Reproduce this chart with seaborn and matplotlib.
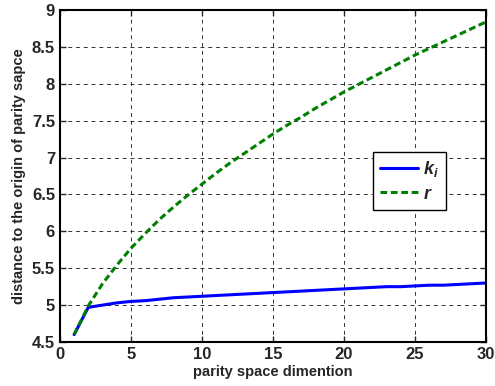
import matplotlib
matplotlib.use("Agg")
import matplotlib.pyplot as plt
import seaborn as sns
import pandas as pd
import numpy as np

# parity space dimension
dims = list(range(1, 31))
# k_i values
k_vals = [4.60, 4.97, 5.00, 5.03, 5.05, 5.06, 5.08, 5.10, 5.11, 5.12,
          5.13, 5.14, 5.15, 5.16, 5.17, 5.18, 5.19, 5.20, 5.21, 5.22,
          5.23, 5.24, 5.25, 5.25, 5.26, 5.27, 5.27, 5.28, 5.29, 5.30]
# r values
r_vals = [4.60, 4.99, 5.29, 5.54, 5.77, 5.97, 6.16, 6.33, 6.49, 6.64,
          6.79, 6.93, 7.06, 7.19, 7.32, 7.44, 7.55, 7.67, 7.78, 7.89,
          7.99, 8.09, 8.19, 8.29, 8.39, 8.48, 8.57, 8.66, 8.75, 8.84]
x_ticks = [0, 5, 10, 15, 20, 25, 30]
y_ticks = [4.5, 5, 5.5, 6, 6.5, 7, 7.5, 8, 8.5, 9]

sns.set_style("ticks")
plt.rcParams['font.family'] = ['Liberation Sans', 'DejaVu Sans']
plt.rcParams['font.weight'] = 'bold'
plt.rcParams['mathtext.fontset'] = 'custom'
plt.rcParams['mathtext.it'] = 'Liberation Sans:italic:bold'
plt.rcParams['mathtext.rm'] = 'Liberation Sans:bold'

df = pd.DataFrame({"dim": dims + dims,
                   "val": k_vals + r_vals,
                   "series": [r"$k_i$"] * len(dims) + [r"$r$"] * len(dims)})

fig = plt.figure(figsize=(4.95, 3.86), dpi=100)
ax = fig.add_axes([0.121, 0.114, 0.861, 0.860])

sns.lineplot(data=df, x="dim", y="val", hue="series", style="series",
             palette=["#0000ff", "#008000"], dashes=[(None, None), (2.2, 1.2)],
             linewidth=2.2, ax=ax)

ax.set_xlim(0, 30)
ax.set_ylim(4.5, 9)
ax.set_xticks(x_ticks)
ax.set_yticks(y_ticks)
ax.set_xticklabels([str(t) for t in x_ticks], fontsize=12, fontweight='bold')
ax.set_yticklabels([("%g" % t) for t in y_ticks], fontsize=12, fontweight='bold')
ax.grid(True, color='black', linestyle=(0, (4, 4)), linewidth=0.7, alpha=0.8)
ax.set_axisbelow(True)
ax.tick_params(direction='in', length=4, width=1, top=True, right=True)
for s in ax.spines.values():
    s.set_linewidth(1.5)
    s.set_color('black')

ax.set_xlabel("parity space dimention", fontsize=10.5, fontweight='bold', labelpad=2)
ax.set_ylabel("distance to the origin of parity sapce", fontsize=10.5, fontweight='bold', labelpad=4)

leg = ax.legend(loc='upper left', bbox_to_anchor=(0.735, 0.572), fontsize=13,
                borderaxespad=0, frameon=True, fancybox=False, edgecolor='black',
                framealpha=1, handlelength=2.1, borderpad=0.4, labelspacing=0.35,
                handletextpad=0.25)
leg.get_frame().set_linewidth(1.0)

fig.savefig("out.png", dpi=100)
